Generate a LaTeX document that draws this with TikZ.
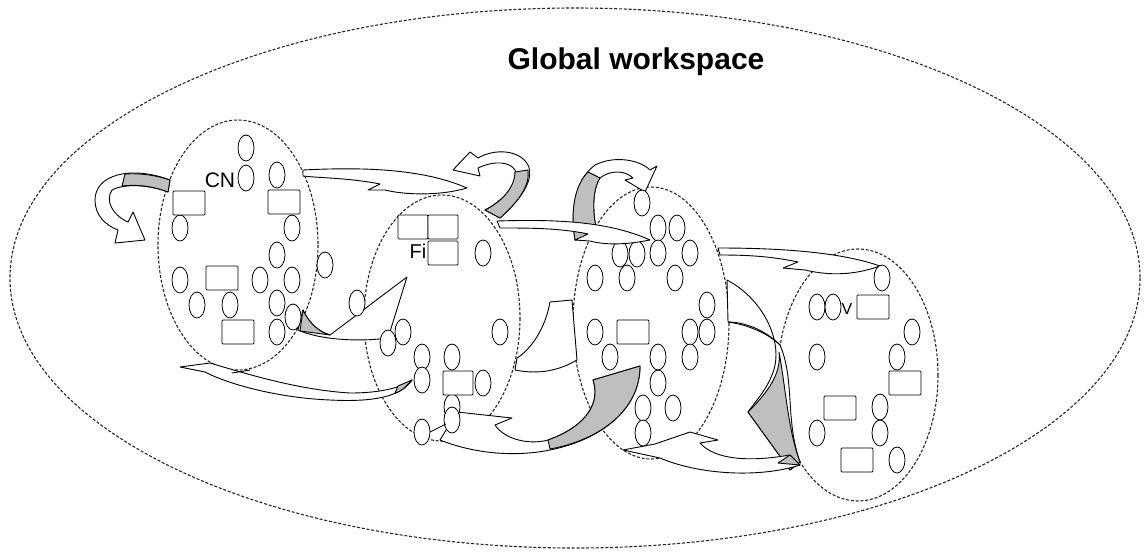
\documentclass[tikz,border=0pt]{standalone}
\usepackage{fontspec}
\setmainfont{Liberation Sans}

\begin{document}
\begin{tikzpicture}[x=1pt, y=-1pt,
    every node/.style={font=\fontsize{15}{18}\selectfont, inner sep=0pt},
    cloud/.style={draw, dash pattern=on 3pt off 1.8pt, line width=1.1pt, black!85},
    blob/.style={draw, line width=0.8pt, fill=white},
    ribbon/.style={draw, line width=0.9pt, fill=white, line join=round},
    twist/.style={draw, line width=0.9pt, fill=black!25, line join=round}]

    \useasboundingbox (0,0) rectangle (1145,557);

    % Global workspace
    \draw[cloud] (575,278) ellipse [x radius=565, y radius=270];
    \node[font=\fontsize{30}{36}\selectfont\bfseries] (title) at (636,62) {Global workspace};

    % processors
    \draw[cloud] (238,245) ellipse [x radius=80, y radius=125];
    \draw[cloud] (442,318) ellipse [x radius=78, y radius=123];
    \draw[cloud] (651,323) ellipse [x radius=78, y radius=136];
    \draw[cloud] (858,375) ellipse [x radius=80, y radius=126];

    % hidden units behind the arrows
    \foreach \x/\y in {620/254, 637/254}
        \draw[blob] (\x,\y) ellipse [x radius=8, y radius=13];

    % self loop 1
    \draw[ribbon] (170,180) .. controls (130,165) and (95,175) .. (95,200)
        .. controls (95,215) and (105,225) .. (118,230) -- (115,243) -- (145,240)
        -- (133,212) -- (128,222) .. controls (112,215) and (105,200) .. (112,190)
        .. controls (125,183) and (150,185) .. (168,192) -- cycle;
    \draw[twist] (170,180) .. controls (155,175) and (140,173) .. (125,174)
        -- (122,186) .. controls (140,184) and (155,187) .. (168,192) -- cycle;

    % self loop 2
    \draw[ribbon] (500,218) .. controls (520,200) and (535,180) .. (528,165)
        .. controls (520,150) and (495,148) .. (478,158) -- (470,152) -- (453,170)
        -- (480,176) -- (478,168) .. controls (495,160) and (510,162) .. (515,170)
        .. controls (520,180) and (505,200) .. (485,210) -- cycle;
    \draw[twist] (500,218) .. controls (520,200) and (530,185) .. (528,170)
        -- (515,172) .. controls (515,185) and (505,200) .. (485,210) -- cycle;

    % self loop 3
    \draw[ribbon] (575,240) .. controls (570,210) and (575,180) .. (595,165)
        .. controls (615,155) and (640,160) .. (650,170) -- (657,166) -- (645,192)
        -- (625,180) -- (633,178) .. controls (625,170) and (610,170) .. (600,178)
        .. controls (592,190) and (592,215) .. (598,235) -- cycle;
    \draw[twist] (575,240) .. controls (570,210) and (575,185) .. (588,172)
        -- (600,178) .. controls (592,190) and (592,215) .. (598,235) -- cycle;

    % top arrows
    \draw[ribbon] (303,170) .. controls (380,166) and (430,172) .. (467,188)
        .. controls (440,196) and (405,195) .. (385,190) -- (368,190) -- (380,184)
        .. controls (350,178) and (320,178) .. (303,176) -- cycle;
    \draw[ribbon] (497,221) .. controls (560,219) and (610,222) .. (650,240)
        .. controls (625,245) and (605,245) .. (590,241) -- (575,240) -- (588,234)
        .. controls (560,228) and (530,228) .. (500,228) -- cycle;
    \draw[ribbon] (718,248) .. controls (780,248) and (840,252) .. (880,266)
        .. controls (855,275) and (830,276) .. (805,270) -- (783,268) -- (798,262)
        .. controls (770,256) and (745,255) .. (720,255) -- cycle;

    % middle arrows
    \draw[ribbon] (303,310) .. controls (310,325) and (320,332) .. (330,335)
        -- (407,277) -- (388,338) .. controls (360,342) and (320,340) .. (298,330) -- cycle;
    \draw[twist] (303,310) .. controls (310,325) and (320,332) .. (330,335)
        -- (300,331) -- cycle;
    \draw[ribbon] (572,300) -- (550,302) .. controls (545,330) and (530,350) .. (517,358)
        -- (515,370) .. controls (540,375) and (560,370) .. (577,360) -- cycle;
    \draw[ribbon] (727,280) .. controls (765,300) and (785,345) .. (772,375)
        .. controls (765,392) and (755,402) .. (748,412) -- (790,470) -- (800,462)
        .. controls (785,420) and (795,380) .. (780,345)
        .. controls (765,330) and (745,322) .. (728,322) -- cycle;
    \draw[twist] (748,412) -- (790,470) -- (800,462)
        .. controls (788,430) and (786,390) .. (779,352)
        .. controls (782,375) and (765,395) .. (748,412) -- cycle;
    \draw[line width=0.9pt] (728,322) .. controls (750,325) and (770,335) .. (780,345);

    % bottom arrows
    \draw[ribbon] (180,367) -- (210,363) .. controls (250,375) and (300,390) .. (350,393)
        .. controls (380,393) and (400,388) .. (412,380)
        .. controls (400,398) and (370,402) .. (330,400)
        .. controls (280,398) and (230,385) .. (205,372) -- cycle;
    \draw[line width=0.9pt] (232,373) -- (250,370);
    \draw[twist] (412,380) .. controls (405,388) and (400,392) .. (395,393) -- (398,386) -- cycle;
    \draw[ribbon] (457,412) -- (512,418) -- (495,425)
        .. controls (505,440) and (530,445) .. (548,440)
        .. controls (590,425) and (600,400) .. (593,380) -- (640,366)
        .. controls (640,410) and (600,440) .. (550,450)
        .. controls (510,458) and (470,452) .. (440,440) -- cycle;
    \draw[twist] (593,380) -- (640,366) .. controls (640,410) and (600,440) .. (550,449)
        -- (548,440) .. controls (590,425) and (600,400) .. (593,380) -- cycle;
    \draw[ribbon] (623,450) -- (655,444) -- (690,432) -- (718,440) -- (700,443)
        .. controls (715,460) and (750,462) .. (790,455) -- (800,465)
        .. controls (760,478) and (700,475) .. (660,458) -- cycle;
    \draw[twist] (790,455) -- (800,465) -- (778,463) -- cycle;

    % units of processor 1
    \node[font=\fontsize{21}{24}\selectfont] (cn) at (220,180) {CN};
    \foreach \x/\y in {246/148, 246/178, 277/175, 180/228, 292/228, 277/255, 325/265,
        180/280, 260/280, 292/280, 197/305, 230/305, 277/303, 293/317, 277/332}
        \draw[blob] (\x,\y) ellipse [x radius=8, y radius=13];
    \foreach \x/\y in {189/203, 284/202, 222/278, 238/332}
        \draw[blob, rounded corners=1pt] (\x-16,\y-12) rectangle ++(32,24);

    % units of processor 2
    \node[font=\fontsize{20}{24}\selectfont] (fi) at (418,251) {Fi};
    \foreach \x/\y in {483/253, 357/303, 388/343, 403/332, 500/332, 422/357, 452/357,
        422/380, 483/383, 452/407, 452/420, 422/432}
        \draw[blob] (\x,\y) ellipse [x radius=8, y radius=13];
    \foreach \x/\y in {413/227, 443/227, 443/253, 458/383}
        \draw[blob, rounded corners=1pt] (\x-15,\y-12) rectangle ++(30,24);
    \draw[line width=0.8pt] (430,432) -- (446,424);

    % units of processor 3
    \foreach \x/\y in {642/203, 658/228, 677/228, 658/253, 690/253, 595/278, 627/278,
        675/278, 707/305, 595/332, 690/332, 707/332, 610/357, 658/357, 690/357,
        658/383, 643/408, 673/408, 643/433}
        \draw[blob] (\x,\y) ellipse [x radius=8, y radius=13];
    \draw[blob, rounded corners=1pt] (633-16,332-12) rectangle ++(32,24);

    % units of processor 4
    \node[font=\fontsize{16}{18}\selectfont] (v) at (847,309) {V};
    \foreach \x/\y in {882/278, 817/307, 833/307, 912/332, 817/357, 897/357, 880/407,
        817/433, 880/433, 897/460}
        \draw[blob] (\x,\y) ellipse [x radius=8, y radius=13];
    \foreach \x/\y in {873/307, 905/383, 840/408, 857/460}
        \draw[blob, rounded corners=1pt] (\x-16,\y-12) rectangle ++(32,24);

\end{tikzpicture}
\end{document}
